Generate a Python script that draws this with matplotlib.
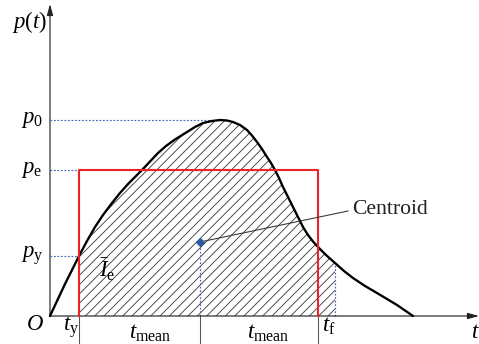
import numpy as np
import matplotlib
matplotlib.use("Agg")
import matplotlib.pyplot as plt

plt.rcParams['font.family'] = 'serif'
plt.rcParams['font.serif'] = ['Liberation Serif', 'DejaVu Serif']
plt.rcParams['mathtext.fontset'] = 'custom'
plt.rcParams['mathtext.rm'] = 'Liberation Serif'
plt.rcParams['mathtext.it'] = 'Liberation Serif:italic'
plt.rcParams['hatch.linewidth'] = 0.7
plt.rcParams['hatch.color'] = '#333333'

# curve
t_vals = [0, 0.7, 1.5, 2.2, 2.9, 3.7, 4.5, 5.3, 6.2, 7.0, 7.8, 8.5, 9.2, 10.0, 10.8, 11.6,
          12.5, 13.7, 14.5, 15.3, 16.2, 17.0, 17.7, 18.3, 19.0, 19.7, 20.2, 20.7, 21.2,
          21.7, 22.1, 22.5, 22.9, 23.3, 23.8, 24.3, 24.8, 25.3, 25.8, 26.3, 26.8, 27.6,
          28.5, 29.4, 30.3, 31.5, 32.7, 33.7, 34.7, 35.5, 36.3]
p_vals = [0, 1.5, 3.2, 4.6, 6.0, 7.5, 8.9, 10.1, 11.3, 12.3, 13.2, 13.9, 14.6, 15.45, 16.3, 17.0,
          17.65, 18.4, 18.9, 19.3, 19.5, 19.6, 19.55, 19.4, 19.1, 18.6, 18.05, 17.4, 16.7,
          15.9, 15.3, 14.6, 13.8, 12.9, 11.9, 10.9, 9.9, 8.9, 8.1, 7.45, 6.9, 6.1,
          5.3, 4.5, 3.8, 3.0, 2.3, 1.7, 1.1, 0.55, 0]

p0 = 19.6
pe = 14.6
py = 6.0
t_y = 2.9
t_c = 15.0
p_c = 7.4
t_end = 26.8
t_f = 28.5
p_f = 5.3

dpi = 84
fig = plt.figure(figsize=(479 / dpi, 344 / dpi), dpi=dpi)
ax = fig.add_axes([0, 0, 1, 1])
ax.set_xlim(-5.0, 42.9)
ax.set_ylim(-2.8, 31.6)
ax.axis('off')

t = np.array(t_vals)
p = np.array(p_vals)

# hatched area
m = (t >= t_y) & (t <= t_f)
ax.fill_between(t[m], 0, p[m], facecolor='none', edgecolor='#333333', hatch='///', linewidth=0)

# axes arrows
ax.annotate('', xy=(0, 31.2), xytext=(0, 0),
            arrowprops=dict(arrowstyle='-|>,head_length=0.8,head_width=0.22', color='#222222', lw=1.0,
                            shrinkA=0, shrinkB=0))
ax.annotate('', xy=(42.9, 0), xytext=(0, 0),
            arrowprops=dict(arrowstyle='-|>,head_length=0.8,head_width=0.22', color='#222222', lw=1.0,
                            shrinkA=0, shrinkB=0))

# tick marks below the axis
for x in [t_y, t_c, t_end]:
    ax.plot([x, x], [0, -2.8], color='#555555', lw=0.9)

# dotted guides
dot = dict(color='#4466bb', lw=1.0, ls=(0, (1.5, 1.5)))
ax.plot([0, 17.0], [p0, p0], **dot)
ax.plot([0, t_y], [pe, pe], **dot)
ax.plot([0, t_y], [py, py], **dot)
ax.plot([t_c, t_c], [0, p_c], **dot)
ax.plot([t_f, t_f], [0, p_f], **dot)

# curve
ax.plot(t, p, color='black', lw=2.0, solid_capstyle='round', solid_joinstyle='round', zorder=5)

# red rectangle
ax.plot([t_y, t_y, t_end, t_end], [0, pe, pe, 0], color='#e8262a', lw=1.8, zorder=6)

# centroid
ax.plot([t_c, 29.8], [p_c, 10.5], color='#333333', lw=0.9, zorder=7)
ax.plot([t_c], [p_c], marker='D', ms=4.5, color='#2c5aa0', zorder=8)
ax.text(30.2, 10.6, 'Centroid', fontsize=18.5, va='center', ha='left', color='#222222')

fs = 19.5
ax.text(-2.0, 29.4, r'$p(t)$', fontsize=fs, ha='center', va='center')
ax.text(-1.8, p0, r'$p_{\mathrm{0}}$', fontsize=fs, ha='center', va='center')
ax.text(-1.8, pe, r'$p_{\mathrm{e}}$', fontsize=fs, ha='center', va='center')
ax.text(-1.8, py, r'$p_{\mathrm{y}}$', fontsize=fs, ha='center', va='center')
ax.text(-1.5, -0.8, r'$O$', fontsize=fs, ha='center', va='center')
ax.text(2.1, -1.1, r'$t_{\mathrm{y}}$', fontsize=fs, ha='center', va='center')
ax.text(10.0, -1.7, r'$t_{\mathrm{mean}}$', fontsize=fs, ha='center', va='center')
ax.text(21.8, -1.7, r'$t_{\mathrm{mean}}$', fontsize=fs, ha='center', va='center')
ax.text(27.9, -1.0, r'$t_{\mathrm{f}}$', fontsize=fs, ha='center', va='center')
ax.text(42.5, -1.7, r'$t$', fontsize=fs, ha='center', va='center')
ax.text(5.7, 4.6, r'$\bar{I}_{\mathrm{e}}$', fontsize=fs, ha='center', va='center')

fig.savefig('out.png', dpi=dpi)
